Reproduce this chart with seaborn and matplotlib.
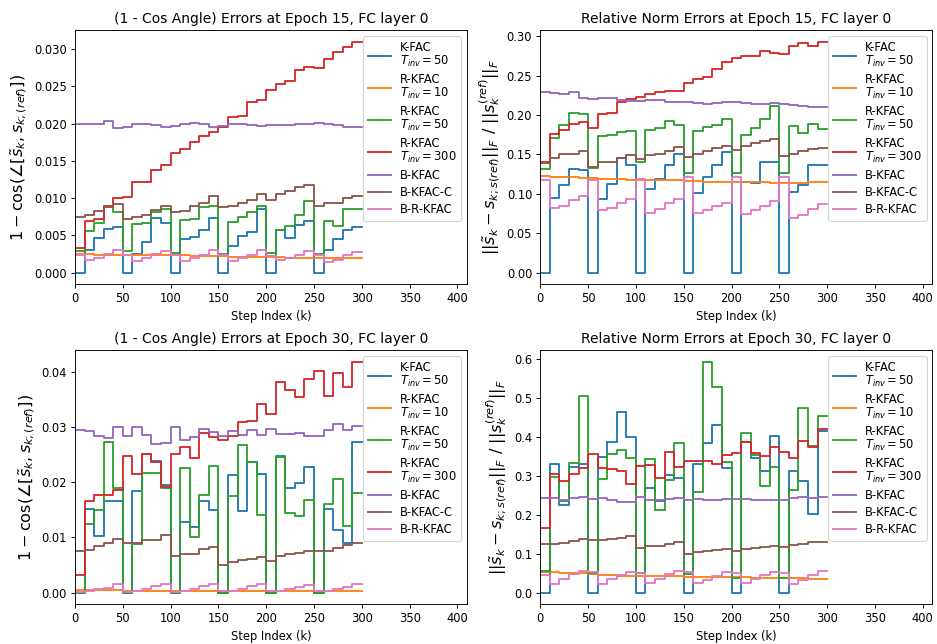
import matplotlib
matplotlib.use("Agg")
import matplotlib.pyplot as plt
import pandas as pd
import seaborn as sns

# step index (k), one sample every 10 steps
steps = [0, 10, 20, 30, 40, 50, 60, 70, 80, 90, 100, 110, 120, 130, 140, 150,
         160, 170, 180, 190, 200, 210, 220, 230, 240, 250, 260, 270, 280, 290, 300]

methods = ['K-FAC\n$T_{inv} = 50$', 'R-KFAC\n$T_{inv} = 10$', 'R-KFAC\n$T_{inv} = 50$',
           'R-KFAC\n$T_{inv} = 300$', 'B-KFAC', 'B-KFAC-C', 'B-R-KFAC']

# (1 - cos angle), epoch 15
cos15_kfac50 = [0, .0031, .0047, .0059, .0061, 0, .0025, .0041, .0074, .0067, 0, .0045, .0048, .0057, .0073, 0,
                .0036, .0049, .0055, .0085, 0, .0057, .0047, .0064, .0069, 0, .0031, .0045, .0057, .0061, .0061]
cos15_rkfac10 = [.0025, .0025, .0024, .0024, .0024, .0024, .0024, .0023, .0023, .0023, .0023, .0023, .0022, .0022, .0022, .0022,
                 .0021, .0021, .0021, .0021, .0021, .0021, .0020, .0020, .0020, .0020, .0020, .0020, .0020, .0020, .0020]
cos15_rkfac50 = [.0029, .0056, .0067, .0089, .0082, .0029, .0065, .0066, .0082, .0086, .0026, .0071, .0072, .0088, .0090, .0025,
                 .0068, .0075, .0081, .0089, .0027, .0057, .0063, .0078, .0096, .0025, .0070, .0063, .0085, .0086, .0086]
cos15_rkfac300 = [.0033, .0070, .0072, .0088, .0100, .0102, .0122, .0122, .0138, .0144, .0160, .0166, .0175, .0183, .0189, .0196,
                  .0209, .0211, .0229, .0232, .0245, .0253, .0257, .0272, .0276, .0275, .0287, .0296, .0303, .0310, .0310]
cos15_bkfac = [.0200, .0200, .0199, .0204, .0194, .0196, .0199, .0200, .0198, .0196, .0197, .0199, .0201, .0199, .0195, .0197,
               .0200, .0199, .0198, .0197, .0198, .0198, .0198, .0199, .0199, .0201, .0199, .0198, .0196, .0196, .0196]
cos15_bkfacc = [.0075, .0077, .0083, .0089, .0092, .0072, .0075, .0077, .0084, .0089, .0082, .0083, .0089, .0094, .0103, .0088,
                .0090, .0093, .0097, .0106, .0097, .0105, .0109, .0115, .0118, .0089, .0093, .0094, .0100, .0103, .0103]
cos15_brkfac = [.0024, .0017, .0020, .0025, .0031, .0024, .0016, .0020, .0025, .0029, .0023, .0015, .0020, .0024, .0030, .0023,
                .0015, .0020, .0024, .0030, .0022, .0017, .0020, .0023, .0029, .0024, .0014, .0017, .0023, .0028, .0028]

# relative norm error, epoch 15
norm15_kfac50 = [0, .095, .111, .132, .130, 0, .094, .113, .146, .136, 0, .106, .119, .136, .151, 0,
                 .101, .121, .136, .153, 0, .115, .114, .140, .140, 0, .102, .111, .137, .136, .136]
norm15_rkfac10 = [.123, .122, .121, .121, .120, .120, .119, .119, .119, .118, .118, .118, .117, .117, .117, .116,
                  .116, .115, .115, .115, .115, .115, .115, .115, .114, .114, .114, .114, .115, .115, .115]
norm15_rkfac50 = [.132, .171, .187, .202, .201, .133, .174, .175, .178, .180, .141, .181, .184, .192, .187, .126,
                  .180, .185, .187, .195, .127, .175, .183, .195, .212, .127, .186, .177, .189, .182, .182]
norm15_rkfac300 = [.141, .176, .181, .189, .191, .184, .201, .203, .217, .220, .223, .227, .229, .231, .231, .241,
                   .246, .248, .258, .268, .273, .275, .275, .281, .279, .278, .288, .291, .288, .293, .293]
norm15_bkfac = [.229, .228, .227, .229, .222, .221, .222, .222, .219, .218, .218, .219, .219, .217, .216, .217,
                .215, .214, .215, .216, .216, .215, .214, .214, .215, .214, .213, .211, .210, .210, .210]
norm15_bkfacc = [.139, .146, .150, .151, .154, .134, .140, .141, .146, .149, .144, .149, .151, .154, .159, .147,
                 .151, .154, .158, .161, .156, .161, .164, .167, .170, .148, .151, .154, .157, .158, .158]
norm15_brkfac = [.118, .082, .085, .092, .097, .118, .079, .082, .088, .094, .119, .076, .081, .088, .093, .121,
                 .076, .079, .084, .089, .121, .075, .080, .085, .091, .121, .069, .073, .081, .087, .087]

# (1 - cos angle), epoch 30
cos30_kfac50 = [0, .0151, .0102, .0166, .0166, 0, .0184, .0251, .0238, .0195, 0, .0127, .0119, .0166, .0149, 0,
                .0213, .0147, .0237, .0215, 0, .0248, .0190, .0199, .0228, 0, .0151, .0113, .0090, .0272, .0272]
cos30_rkfac10 = [.0004, .0004, .0004, .0004, .0004, .0003, .0003, .0003, .0003, .0003, .0003, .0003, .0003, .0003, .0003, .0003,
                 .0002, .0002, .0002, .0002, .0002, .0002, .0002, .0002, .0002, .0002, .0002, .0002, .0002, .0002, .0002]
cos30_rkfac50 = [0, .0125, .0149, .0273, .0190, 0, .0087, .0217, .0217, .0189, 0, .0225, .0101, .0177, .0229, 0,
                 .0175, .0267, .0237, .0141, 0, .0246, .0144, .0139, .0167, 0, .0161, .0205, .0120, .0180, .0180]
cos30_rkfac300 = [.0031, .0166, .0177, .0177, .0185, .0247, .0215, .0251, .0237, .0191, .0251, .0264, .0243, .0289, .0282, .0277,
                  .0283, .0309, .0311, .0341, .0324, .0381, .0366, .0355, .0386, .0401, .0356, .0398, .0372, .0418, .0418]
cos30_bkfac = [.0294, .0292, .0283, .0279, .0300, .0284, .0300, .0285, .0269, .0271, .0300, .0277, .0282, .0297, .0291, .0283,
               .0293, .0285, .0294, .0286, .0296, .0287, .0288, .0289, .0283, .0283, .0295, .0305, .0295, .0301, .0301]
cos30_bkfacc = [.0075, .0077, .0085, .0089, .0097, .0090, .0090, .0095, .0096, .0104, .0066, .0069, .0069, .0078, .0083, .0049,
                .0056, .0059, .0060, .0065, .0058, .0066, .0069, .0072, .0075, .0075, .0075, .0081, .0086, .0090, .0090]
cos30_brkfac = [.0001, .0003, .0006, .0009, .0015, .0001, .0003, .0006, .0011, .0015, .0001, .0003, .0006, .0011, .0015, .0003,
                .0003, .0007, .0011, .0015, .0002, .0003, .0006, .0010, .0014, .0002, .0003, .0007, .0010, .0015, .0015]

# relative norm error, epoch 30
norm30_kfac50 = [0, .330, .226, .324, .332, 0, .350, .388, .465, .399, 0, .269, .236, .303, .296, 0,
                 .332, .384, .431, .321, 0, .388, .345, .314, .403, 0, .314, .286, .202, .415, .415]
norm30_rkfac10 = [.053, .053, .051, .050, .049, .048, .046, .045, .043, .043, .043, .043, .042, .042, .042, .041,
                  .041, .040, .040, .040, .039, .039, .038, .038, .038, .037, .037, .037, .036, .036, .036]
norm30_rkfac50 = [.055, .298, .236, .334, .505, .049, .292, .356, .368, .345, .049, .344, .213, .290, .385, .047,
                  .260, .594, .529, .337, .038, .411, .354, .273, .324, .038, .263, .476, .378, .454, .454]
norm30_rkfac300 = [.165, .304, .287, .304, .321, .356, .321, .317, .313, .279, .326, .328, .296, .361, .324, .338,
                   .339, .338, .332, .354, .358, .388, .358, .352, .375, .362, .345, .390, .375, .420, .420]
norm30_bkfac = [.243, .243, .239, .243, .245, .241, .243, .237, .232, .234, .245, .237, .237, .241, .243, .239,
                .241, .239, .239, .241, .241, .240, .239, .239, .237, .239, .243, .247, .243, .246, .246]
norm30_bkfacc = [.124, .124, .128, .132, .138, .135, .135, .138, .141, .145, .115, .119, .119, .125, .129, .100,
                 .104, .107, .109, .111, .107, .113, .115, .118, .119, .118, .122, .126, .130, .130, .130]
norm30_brkfac = [.045, .021, .036, .047, .055, .053, .021, .034, .045, .053, .051, .024, .036, .047, .055, .052,
                 .024, .032, .043, .053, .051, .024, .034, .045, .054, .049, .023, .032, .045, .055, .055]

cos_label = r'$1 - \cos(\angle[\tilde{s}_k, s_{k;(ref)}])$'
norm_label = r'$||\tilde{s}_k - s_{k;s(ref)}||_F\ /\ ||s_k^{(ref)}||_F$'


def draw_panel(ax, series, title, ylabel, ylabel_size):
    df = pd.DataFrame({
        'step': steps * len(methods),
        'value': [v for s in series for v in s],
        'method': [m for m in methods for _ in steps],
    })
    sns.lineplot(data=df, x='step', y='value', hue='method', hue_order=methods,
                 palette=sns.color_palette('tab10', 7), drawstyle='steps-post',
                 errorbar=None, linewidth=1.6, ax=ax)
    sns.move_legend(ax, 'upper right', title=None, labelspacing=0.35)
    # tighter line spacing inside the two-line labels
    for t in ax.get_legend().get_texts():
        t.set_linespacing(1.0)
    ax.set_xlim(0, 410)
    ax.set_title(title, fontsize=12)
    ax.set_xlabel('Step Index (k)')
    ax.set_ylabel(ylabel, fontsize=ylabel_size)


fig, axs = plt.subplots(2, 2, figsize=(937 / 83, 644 / 83), dpi=83)
fig.subplots_adjust(left=0.080, right=0.995, top=0.953, bottom=0.062, wspace=0.187, hspace=0.26)

draw_panel(axs[0, 0], [cos15_kfac50, cos15_rkfac10, cos15_rkfac50, cos15_rkfac300, cos15_bkfac, cos15_bkfacc, cos15_brkfac],
           '(1 - Cos Angle) Errors at Epoch 15, FC layer 0', cos_label, 14)
draw_panel(axs[0, 1], [norm15_kfac50, norm15_rkfac10, norm15_rkfac50, norm15_rkfac300, norm15_bkfac, norm15_bkfacc, norm15_brkfac],
           'Relative Norm Errors at Epoch 15, FC layer 0', norm_label, 14)
draw_panel(axs[1, 0], [cos30_kfac50, cos30_rkfac10, cos30_rkfac50, cos30_rkfac300, cos30_bkfac, cos30_bkfacc, cos30_brkfac],
           '(1 - Cos Angle) Errors at Epoch 30, FC layer 0', cos_label, 14)
draw_panel(axs[1, 1], [norm30_kfac50, norm30_rkfac10, norm30_rkfac50, norm30_rkfac300, norm30_bkfac, norm30_bkfacc, norm30_brkfac],
           'Relative Norm Errors at Epoch 30, FC layer 0', norm_label, 14)

fig.savefig('out.png', dpi=83)
